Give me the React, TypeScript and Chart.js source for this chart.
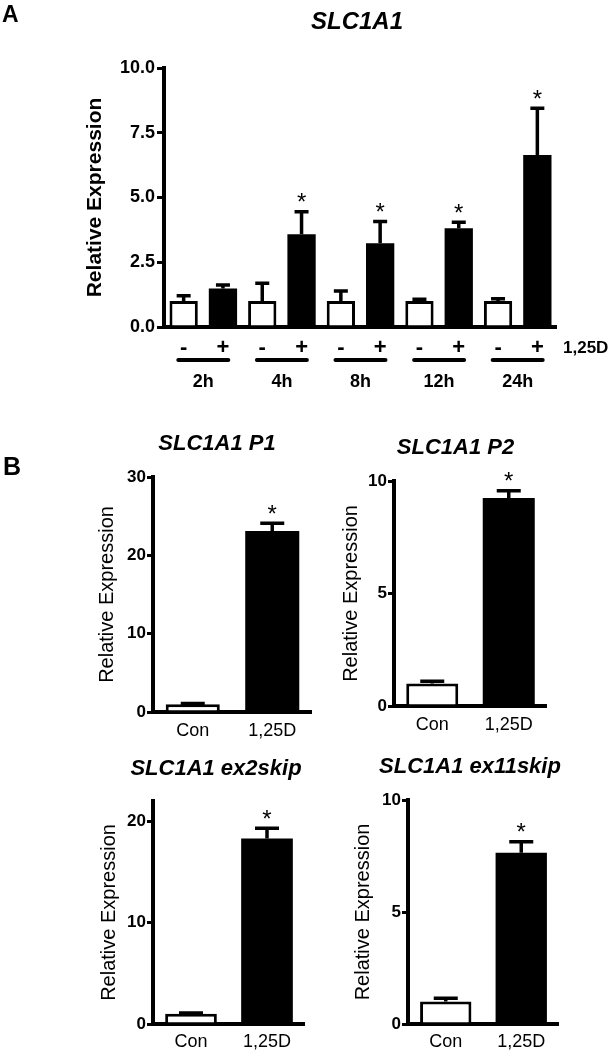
import React, { useEffect, useRef } from 'react';
import { Chart, registerables } from 'chart.js';

Chart.register(...registerables);

const FONT = '"Liberation Sans", Arial, Helvetica, sans-serif';
Chart.defaults.font.family = FONT;
Chart.defaults.color = '#000';

// ---------- Panel A data ----------
const timepoints = ['2h', '4h', '8h', '12h', '24h'];
const conMeanA = [1.0, 1.0, 1.0, 1.0, 1.0];
const conSemA = [0.21, 0.69, 0.39, 0.07, 0.09];
const vitDMeanA = [1.49, 3.58, 3.23, 3.81, 6.64];
const vitDSemA = [0.13, 0.87, 0.84, 0.23, 1.81];
const vitDSigA = [false, true, true, true, true];
const conSigA = [false, false, false, false, false];
const yTicksA = [0, 2.5, 5, 7.5, 10];
const treatSigns = ['-', '+'];
const treatLabel = '1,25D';

// ---------- Panel B data ----------
const groupsB = ['Con', '1,25D'];
const sigB = [false, true];

const p1Mean = [1.0, 23.1];
const p1Sem = [0.1, 1.0];
const p1Ticks = [0, 10, 20, 30];

const p2Mean = [1.0, 9.24];
const p2Sem = [0.1, 0.33];
const p2Ticks = [0, 5, 10];

const ex2Mean = [1.0, 18.3];
const ex2Sem = [0.08, 1.0];
const ex2Ticks = [0, 10, 20];
const ex2Max = 22;

const ex11Mean = [1.0, 7.65];
const ex11Sem = [0.15, 0.49];
const ex11Ticks = [0, 5, 10];

type Area = { l: number; t: number; r: number; b: number };
type Series = { mean: number[]; sem: number[]; sig: boolean[] };

function errorBarPlugin(series: Series[], capW: number, lw: number, starGap: number, starSize: number) {
  return {
    id: 'errbars',
    afterDatasetsDraw(chart: any) {
      const ctx = chart.ctx;
      const ys = chart.scales.y;
      series.forEach((s, di) => {
        const meta = chart.getDatasetMeta(di);
        meta.data.forEach((bar: any, j: number) => {
          const x = bar.x;
          const y0 = ys.getPixelForValue(s.mean[j]);
          const y1 = ys.getPixelForValue(s.mean[j] + s.sem[j]);
          ctx.save();
          ctx.strokeStyle = '#000';
          ctx.lineWidth = lw;
          ctx.beginPath();
          ctx.moveTo(x, y0);
          ctx.lineTo(x, y1);
          ctx.moveTo(x - capW / 2, y1);
          ctx.lineTo(x + capW / 2, y1);
          ctx.stroke();
          if (s.sig[j]) {
            ctx.fillStyle = '#000';
            ctx.font = `${starSize}px ${FONT}`;
            ctx.textAlign = 'center';
            ctx.textBaseline = 'alphabetic';
            const cy = y1 - starGap;
            ctx.fillText('*', x, cy + starSize * 0.57);
          }
          ctx.restore();
        });
      });
    },
  };
}

function axisOptions(
  W: number,
  H: number,
  area: Area,
  yTicks: number[],
  yMax: number,
  o: {
    tickFont: any;
    tickLen: number;
    tickPad: number;
    fmt: (v: number) => string;
    yTitleFont: any;
    yTitleX: number;
    xTicks: any;
  }
) {
  const lh = o.yTitleFont.size * 1.2;
  return {
    responsive: false,
    maintainAspectRatio: false,
    animation: false,
    layout: { padding: { left: 0, top: area.t, right: W - area.r, bottom: 0 } },
    plugins: { legend: { display: false }, tooltip: { enabled: false }, title: { display: false } },
    scales: {
      x: {
        type: 'category',
        offset: true,
        grid: { display: false, drawTicks: false, tickLength: 0, lineWidth: 0 },
        border: { display: true, color: '#000', width: 4 },
        ticks: o.xTicks,
        afterFit: (s: any) => {
          s.height = H - area.b;
        },
      },
      y: {
        type: 'linear',
        min: 0,
        max: yMax,
        afterBuildTicks: (s: any) => {
          s.ticks = yTicks.map((v) => ({ value: v }));
        },
        ticks: {
          font: o.tickFont,
          color: '#000',
          padding: o.tickPad,
          callback: (v: any) => o.fmt(Number(v)),
        },
        grid: {
          display: true,
          drawOnChartArea: false,
          drawTicks: true,
          tickLength: o.tickLen,
          tickWidth: 3,
          tickColor: '#000',
          color: '#000',
          lineWidth: 3,
        },
        border: { display: true, color: '#000', width: 4 },
        title: {
          display: true,
          text: 'Relative Expression',
          color: '#000',
          font: o.yTitleFont,
          padding: { top: o.yTitleX - lh / 2, bottom: 0 },
        },
        afterFit: (s: any) => {
          s.width = area.l;
        },
      },
    },
  };
}

function buildPanelA(W: number, H: number) {
  const area: Area = { l: 164, t: 68, r: 557, b: 327 };
  const textPlugin = {
    id: 'textA',
    afterDraw(chart: any) {
      const ctx = chart.ctx;
      const xs = chart.scales.x;
      const ca = chart.chartArea;
      ctx.save();
      ctx.fillStyle = '#000';
      ctx.strokeStyle = '#000';
      ctx.textBaseline = 'alphabetic';
      ctx.font = `bold 23px ${FONT}`;
      ctx.textAlign = 'left';
      ctx.fillText('A', 2, 22);
      ctx.font = `italic bold 24px ${FONT}`;
      ctx.textAlign = 'center';
      ctx.fillText('SLC1A1', 357, 29);
      // treatment signs under each bar
      ctx.font = `bold 22px ${FONT}`;
      ctx.textBaseline = 'middle';
      [0, 1].forEach((di) => {
        const meta = chart.getDatasetMeta(di);
        meta.data.forEach((bar: any) => {
          ctx.fillText(treatSigns[di], bar.x, ca.bottom + 20.5);
        });
      });
      // group underline and time labels
      ctx.lineWidth = 4;
      ctx.lineCap = 'round';
      ctx.textBaseline = 'alphabetic';
      ctx.font = `bold 18px ${FONT}`;
      timepoints.forEach((t, j) => {
        const cx = xs.getPixelForValue(j);
        ctx.beginPath();
        ctx.moveTo(cx - 25, ca.bottom + 33);
        ctx.lineTo(cx + 25, ca.bottom + 33);
        ctx.stroke();
        ctx.fillText(t, cx, ca.bottom + 59.5);
      });
      ctx.font = `bold 17px ${FONT}`;
      ctx.textAlign = 'left';
      ctx.fillText(treatLabel, ca.right + 6, ca.bottom + 26);
      ctx.restore();
    },
  };
  return {
    type: 'bar',
    data: {
      labels: timepoints,
      datasets: [
        {
          data: conMeanA,
          backgroundColor: '#fff',
          borderColor: '#000',
          borderWidth: 3,
          categoryPercentage: 1,
          barPercentage: 0.72,
        },
        {
          data: vitDMeanA,
          backgroundColor: '#000',
          borderColor: '#000',
          borderWidth: 0,
          categoryPercentage: 1,
          barPercentage: 0.72,
        },
      ],
    },
    options: axisOptions(W, H, area, yTicksA, 10, {
      tickFont: { size: 18, weight: 'bold' },
      tickLen: 7,
      tickPad: 2,
      fmt: (v) => v.toFixed(1),
      yTitleFont: { size: 21, weight: 'bold' },
      yTitleX: 95.5,
      xTicks: { display: false },
    }),
    plugins: [
      errorBarPlugin(
        [
          { mean: conMeanA, sem: conSemA, sig: conSigA },
          { mean: vitDMeanA, sem: vitDSemA, sig: vitDSigA },
        ],
        14,
        3.5,
        15,
        24
      ),
      textPlugin,
    ],
  };
}

function buildSmall(cfg: {
  area: Area;
  mean: number[];
  sem: number[];
  ticks: number[];
  yMax: number;
  title: string;
  titleX: number;
  titleY: number;
  yTitleX: number;
  xPad: number;
  showB?: boolean;
}) {
  return (W: number, H: number) => {
    const textPlugin = {
      id: 'textB',
      afterDraw(chart: any) {
        const ctx = chart.ctx;
        ctx.save();
        ctx.fillStyle = '#000';
        ctx.textBaseline = 'alphabetic';
        ctx.textAlign = 'center';
        ctx.font = `italic bold 22px ${FONT}`;
        ctx.fillText(cfg.title, cfg.titleX, cfg.titleY);
        if (cfg.showB) {
          ctx.textAlign = 'left';
          ctx.font = `bold 25px ${FONT}`;
          ctx.fillText('B', 3, 75);
        }
        ctx.restore();
      },
    };
    return {
      type: 'bar',
      data: {
        labels: groupsB,
        datasets: [
          {
            data: cfg.mean,
            backgroundColor: ['#fff', '#000'],
            borderColor: '#000',
            borderWidth: [3, 0],
            categoryPercentage: 1,
            barPercentage: 0.68,
          },
        ],
      },
      options: axisOptions(W, H, cfg.area, cfg.ticks, cfg.yMax, {
        tickFont: { size: 17, weight: 'bold' },
        tickLen: 6,
        tickPad: 1,
        fmt: (v) => String(v),
        yTitleFont: { size: 20, weight: 'normal' },
        yTitleX: cfg.yTitleX,
        xTicks: {
          display: true,
          autoSkip: false,
          maxRotation: 0,
          color: '#000',
          font: { size: 18, weight: 'normal' },
          padding: cfg.xPad,
        },
      }),
      plugins: [
        errorBarPlugin([{ mean: cfg.mean, sem: cfg.sem, sig: sigB }], 24, 3.5, 15, 24),
        textPlugin,
      ],
    };
  };
}

function ChartBox(props: { left: number; top: number; width: number; height: number; build: (W: number, H: number) => any }) {
  const ref = useRef<HTMLCanvasElement>(null);
  useEffect(() => {
    const chart = new Chart(ref.current as HTMLCanvasElement, props.build(props.width, props.height));
    return () => chart.destroy();
  }, []);
  return (
    <canvas
      ref={ref}
      width={props.width}
      height={props.height}
      style={{ position: 'absolute', left: props.left, top: props.top, width: props.width, height: props.height }}
    />
  );
}

export default function App() {
  return (
    <div style={{ position: 'absolute', left: 0, top: 0, width: 611, height: 1050, background: '#fff', overflow: 'hidden' }}>
      <ChartBox left={0} top={0} width={611} height={400} build={buildPanelA} />
      <ChartBox
        left={0}
        top={400}
        width={330}
        height={345}
        build={buildSmall({
          area: { l: 153, t: 77, r: 312, b: 312 },
          mean: p1Mean,
          sem: p1Sem,
          ticks: p1Ticks,
          yMax: 30,
          title: 'SLC1A1 P1',
          titleX: 217,
          titleY: 50,
          yTitleX: 107,
          xPad: 8,
          showB: true,
        })}
      />
      <ChartBox
        left={330}
        top={400}
        width={281}
        height={345}
        build={buildSmall({
          area: { l: 64, t: 81, r: 217, b: 306 },
          mean: p2Mean,
          sem: p2Sem,
          ticks: p2Ticks,
          yMax: 10,
          title: 'SLC1A1 P2',
          titleX: 125.5,
          titleY: 54,
          yTitleX: 21,
          xPad: 8,
        })}
      />
      <ChartBox
        left={0}
        top={745}
        width={330}
        height={305}
        build={buildSmall({
          area: { l: 153, t: 56, r: 305, b: 279 },
          mean: ex2Mean,
          sem: ex2Sem,
          ticks: ex2Ticks,
          yMax: ex2Max,
          title: 'SLC1A1 ex2skip',
          titleX: 216,
          titleY: 30,
          yTitleX: 109.5,
          xPad: 7,
        })}
      />
      <ChartBox
        left={330}
        top={745}
        width={281}
        height={305}
        build={buildSmall({
          area: { l: 78, t: 55, r: 229, b: 279 },
          mean: ex11Mean,
          sem: ex11Sem,
          ticks: ex11Ticks,
          yMax: 10,
          title: 'SLC1A1 ex11skip',
          titleX: 140,
          titleY: 28,
          yTitleX: 33,
          xPad: 7,
        })}
      />
    </div>
  );
}
